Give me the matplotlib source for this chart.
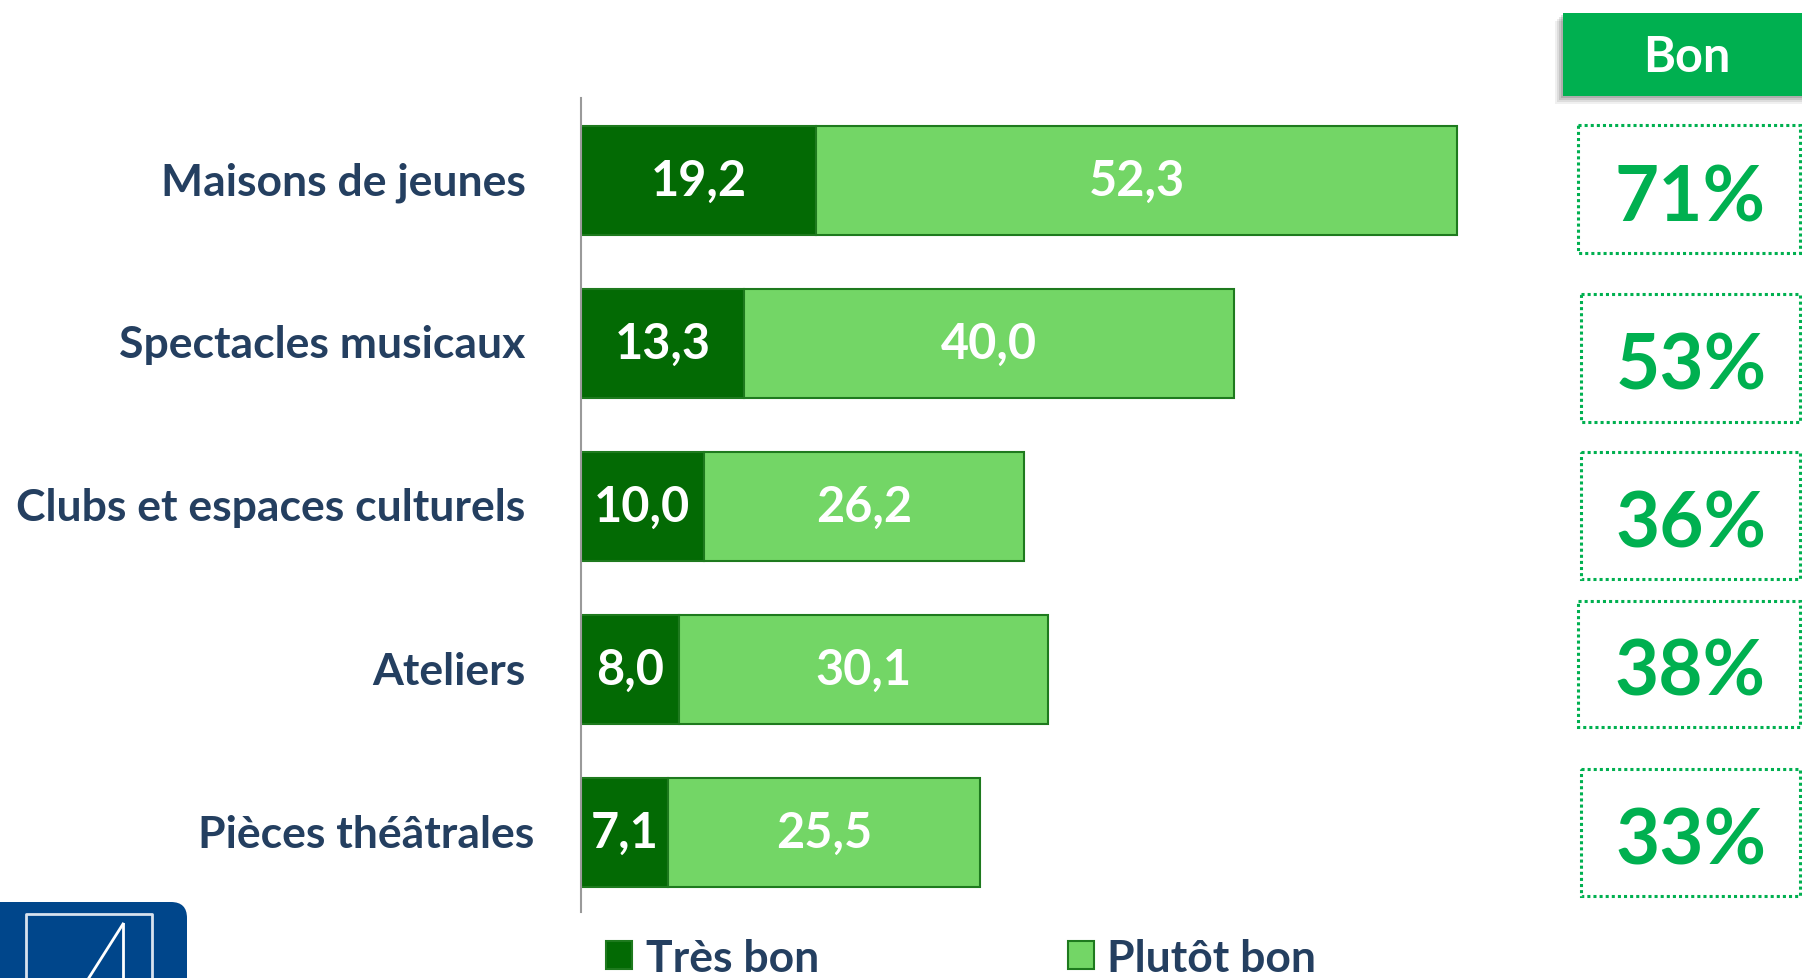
import numpy as np
import matplotlib
matplotlib.use("Agg")
import matplotlib.pyplot as plt
from matplotlib.patches import Rectangle, FancyBboxPatch
from matplotlib.transforms import ScaledTranslation

plt.rcParams["font.family"] = ["Lato", "DejaVu Sans"]
plt.rcParams["font.weight"] = "bold"

# data
categories = ["Maisons de jeunes", "Spectacles musicaux", "Clubs et espaces culturels",
              "Ateliers", "Pièces théâtrales"]
tres_bon = [19.2, 13.3, 10.0, 8.0, 7.1]
plutot_bon = [52.3, 40.0, 26.2, 30.1, 25.5]
bon_pct = [71, 53, 36, 38, 33]
series_names = ["Très bon", "Plutôt bon"]
header = "Bon"

DARK = "#036A04"
LIGHT = "#73D666"
EDGE = "#1E7A1E"
NAVY = "#243F60"
BRIGHT = "#00B050"

W, H = 1802, 979
fig = plt.figure(figsize=(W / 100, H / 100), dpi=100)

# main bar axes: 12.25 px per unit
ax_left, ax_top, ax_bot = 581, 99, 913
ax_w = 1000
ax = fig.add_axes([ax_left / W, 1 - ax_bot / H, ax_w / W, (ax_bot - ax_top) / H])
ax.set_xlim(0, ax_w / 12.25)
ax.set_ylim(4.486, -0.504)

y = np.arange(len(categories))
b1 = ax.barh(y, tres_bon, height=0.67, color=DARK, edgecolor=EDGE, linewidth=1.5,
             label=series_names[0])
b2 = ax.barh(y, plutot_bon, left=tres_bon, height=0.67, color=LIGHT, edgecolor=EDGE,
             linewidth=1.5, label=series_names[1])
for cont, vals in ((b1, tres_bon), (b2, plutot_bon)):
    ax.bar_label(cont, labels=[f"{v:.1f}".replace(".", ",") for v in vals],
                 label_type="center", color="white", fontsize=35, fontweight="bold")

ax.set_yticks(y)
ax.set_yticklabels(categories, fontsize=32, color=NAVY, fontweight="bold")
ax.tick_params(axis="y", length=0, pad=40)
labels = ax.get_yticklabels()
for i, lab in enumerate(labels):
    # last label sits a bit further right in the original
    dx = 0.09 if i == len(labels) - 1 else 0.0
    lab.set_transform(lab.get_transform() + ScaledTranslation(dx, 0.025, fig.dpi_scale_trans))
ax.set_xticks([])
for s in ("top", "right", "bottom"):
    ax.spines[s].set_visible(False)
ax.spines["left"].set_color("#9A9A9A")
ax.spines["left"].set_linewidth(1.5)

leg = ax.legend(handles=[b1, b2], loc="lower left", ncol=2, frameon=False,
                bbox_to_anchor=(606 / W, 0.0), bbox_transform=fig.transFigure,
                fontsize=32, handlelength=0.59, handleheight=0.59, handletextpad=0.3,
                columnspacing=5.6, borderpad=0, borderaxespad=0)
for t in leg.get_texts():
    t.set_color(NAVY)
    t.set_fontweight("bold")

# overlay in pixel coordinates for header, boxes and logo
ov = fig.add_axes([0, 0, 1, 1], facecolor="none")
ov.set_xlim(0, W)
ov.set_ylim(H, 0)
ov.axis("off")

# header with soft shadow
for i, a in enumerate([0.06, 0.08, 0.10, 0.12]):
    off = 8 - i * 2
    ov.add_patch(Rectangle((1563 - off, 14 + off), 260, 83, color="black", alpha=a, lw=0))
ov.add_patch(Rectangle((1563, 14), 260, 83, color=BRIGHT, lw=0))
ov.text(1687, 57, header, color="white", fontsize=35, fontweight="bold",
        ha="center", va="center")

boxes = [(1578, 126, 254), (1581, 295, 423), (1581, 453, 580), (1578, 602, 728),
         (1581, 770, 897)]
for (x0, y0, y1), p in zip(boxes, bon_pct):
    ov.add_patch(Rectangle((x0, y0), 1800 - x0, y1 - y0, fill=False, edgecolor=BRIGHT,
                           linewidth=2.2, linestyle=(0, (1, 1))))
    ov.text((x0 + 1800) / 2 + 1, (y0 + y1) / 2 + 9, f"{p}%", color=BRIGHT, fontsize=55,
            fontweight="bold", ha="center", va="center")

# logo corner
ov.add_patch(FancyBboxPatch((-20, 903), 207, 120, boxstyle="round,pad=0,rounding_size=16",
                            color="#00468B", lw=0))
ov.plot([26, 26, 152, 152], [985, 915, 915, 985], color="#D8E2EE", lw=2)
ov.plot([123, 123], [925, 985], color="white", lw=2)
ov.plot([123, 85], [925, 985], color="white", lw=2)

fig.savefig("out.png", dpi=100)
